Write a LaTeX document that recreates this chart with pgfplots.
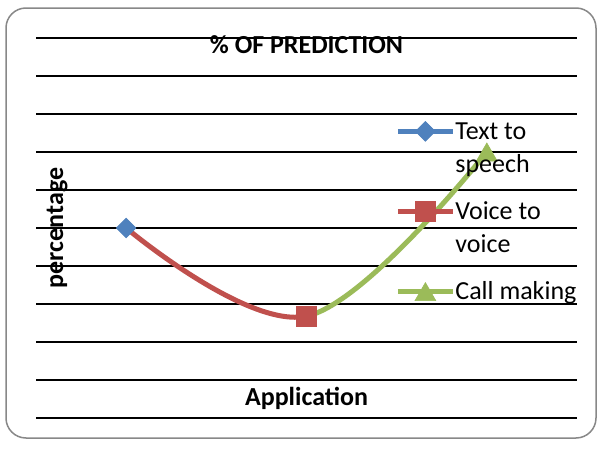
\documentclass[border=0pt]{standalone}
\usepackage{pgfplots}
\pgfplotsset{compat=1.18}
\usepackage{pgfplotstable}
\usepackage{fontspec}
\setmainfont{Carlito}
\definecolor{xblue}{HTML}{4F81BD}
\definecolor{xred}{HTML}{C0504D}
\definecolor{xgreen}{HTML}{9BBB59}
\definecolor{xborder}{HTML}{888888}
\pgfplotstableread{
x y
1 5
2 2.68
3 7
}\pred
\begin{document}
\begin{tikzpicture}
\fill[white] (-18pt,-12pt) rectangle (282.5pt,208.5pt);
\begin{axis}[
  at={(0,0)}, anchor=south west, scale only axis,
  width=270.5pt, height=190pt,
  xmin=0.5, xmax=3.5, ymin=0, ymax=10,
  axis line style={draw=none},
  xtick=\empty, ytick={0,1,...,10}, yticklabels={}, major tick length=0pt,
  ymajorgrids, grid style={black, line width=0.9pt},
  every axis title shift=0pt,
  title={\% OF PREDICTION},
  title style={at={(axis description cs:0.5,0.9605)}, anchor=base, font=\bfseries\fontsize{13}{15}\selectfont},
  xlabel={Application},
  xlabel style={at={(axis description cs:0.5,0.0316)}, anchor=base, font=\bfseries\fontsize{13}{15}\selectfont},
  ylabel={percentage},
  ylabel style={at={(axis description cs:0.05,0.5)}, anchor=base, rotate=0, font=\bfseries\fontsize{13}{15}\selectfont},
  clip=false,
  legend image code/.code={\draw[#1, mark repeat=2, mark phase=2] plot coordinates {(0pt,20.5pt) (13.75pt,20.5pt) (27.5pt,20.5pt)};},
  legend style={draw=none, fill=none, at={(axis description cs:0.6636,0.795)}, anchor=north west,
    inner sep=0pt, row sep=10.5pt, column sep=0pt,
    font=\fontsize{13}{16.5}\selectfont,
    nodes={align=left, inner sep=0pt}, cells={anchor=base west}},
]
\addlegendimage{xblue, line width=2.5pt, mark=square*, mark size=3.5pt, mark options={rotate=45, solid, line width=0.3pt}}
\addlegendentry{\strut Text to\\\strut speech}
\addlegendimage{xred, line width=2.5pt, mark=square*, mark size=5pt, mark options={solid, line width=0.3pt}}
\addlegendentry{\strut Voice to\\\strut voice}
\addlegendimage{xgreen, line width=2.5pt, mark=triangle*, mark size=6pt, mark options={solid, line width=0.3pt, yshift=-1.5pt}}
\addlegendentry{\strut Call making\\\strut}
\begin{scope}
\clip (axis cs:2,-1) rectangle (axis cs:3.6,11);
\addplot[xgreen, line width=2.5pt, smooth, tension=0.6, no marks, forget plot] table {\pred};
\end{scope}
\begin{scope}
\clip (axis cs:0.4,-1) rectangle (axis cs:2,11);
\addplot[xred, line width=2.5pt, smooth, tension=0.6, no marks, forget plot] table {\pred};
\end{scope}
\addplot[only marks, mark=square*, mark size=5pt, xred, mark options={line width=0.3pt}, mark indices={2}, forget plot] table {\pred};
\addplot[only marks, mark=triangle*, mark size=6pt, xgreen, mark options={line width=0.3pt, yshift=-1.5pt}, mark indices={3}, forget plot] table {\pred};
\addplot[only marks, mark=square*, mark size=3.5pt, xblue, mark options={rotate=45, line width=0.3pt}, mark indices={1}, forget plot] table {\pred};
\end{axis}
\draw[xborder, line width=0.75pt, rounded corners=10pt] (-15pt,-10pt) rectangle (280pt,205pt);
\path (-18pt,-12pt) rectangle (282.5pt,208.5pt);
\end{tikzpicture}
\end{document}
